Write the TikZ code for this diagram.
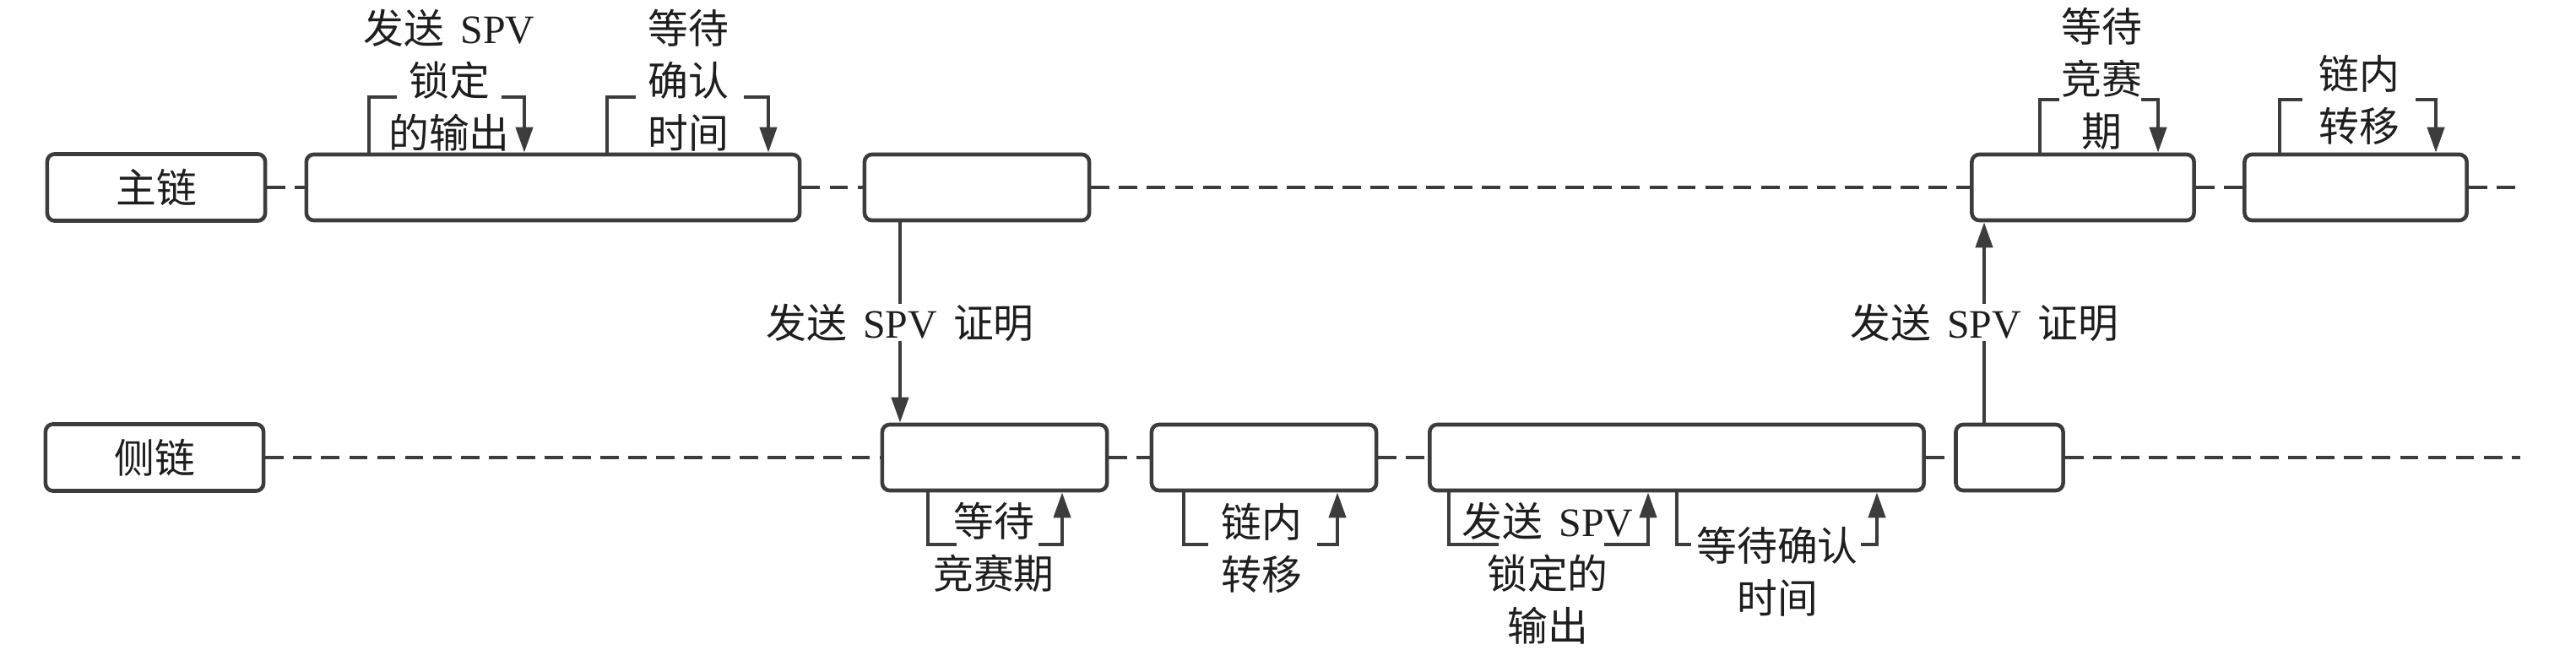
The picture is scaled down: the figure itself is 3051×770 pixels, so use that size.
\documentclass[tikz,border=0pt]{standalone}
\usepackage{fontspec}
\setmainfont{Noto Sans CJK SC}[WordSpace=1.8]
\newfontfamily\lat{Liberation Serif}
\definecolor{LineGray}{RGB}{60,60,60}
\definecolor{TextGray}{RGB}{30,30,30}
\usetikzlibrary{arrows.meta}

\begin{document}
\begin{tikzpicture}[x=0.01cm, y=-0.01cm,
    font=\fontsize{13.6}{17.6}\selectfont,
    >={Triangle[length=3mm,width=2mm]},
    blk/.style={draw=LineGray, line width=1.3pt, rounded corners=2.5pt, fill=white,
        minimum height=0.78cm, inner sep=0pt, text=TextGray},
    chain/.style={draw=LineGray, line width=1.3pt, dash pattern=on 6.2pt off 3.2pt},
    brk/.style={draw=LineGray, line width=1.2pt},
    lbl/.style={align=center, inner sep=0pt, text=TextGray}]
        \useasboundingbox (0,0) rectangle (3051,770);

        \node[blk, minimum width=2.58cm, minimum height=0.79cm] (main) at (185,222) {主链};
        \node[blk, minimum width=5.84cm] (m1) at (655,222) {};
        \node[blk, minimum width=2.66cm] (m2) at (1157,222) {};
        \node[blk, minimum width=2.63cm] (m3) at (2467,222) {};
        \node[blk, minimum width=2.63cm] (m4) at (2790,222) {};
        \coordinate (mainend) at (2985,222);

        \node[blk, minimum width=2.58cm, minimum height=0.79cm] (side) at (183,542) {侧链};
        \node[blk, minimum width=2.66cm] (s1) at (1178,542) {};
        \node[blk, minimum width=2.66cm] (s2) at (1497,542) {};
        \node[blk, minimum width=5.85cm] (s3) at (1986,542) {};
        \node[blk, minimum width=1.27cm] (s4) at (2380,542) {};
        \coordinate (sideend) at (2985,542);

        \foreach \a/\b in {main/m1, m1/m2, m2/m3, m3/m4, m4/mainend, side/s1, s1/s2, s2/s3, s3/s4, s4/sideend}
            \draw[chain] (\a) -- (\b);

        \draw[brk, ->] (m2.south -| 1066,0) -- node[lbl, fill=white] {发送 {\lat SPV} 证明} (s1.north -| 1066,0);
        \draw[brk, ->] (s4.north -| 2350,0) -- node[lbl, fill=white] {发送 {\lat SPV} 证明} (m3.south -| 2350,0);

        \foreach \b/\s/\l/\g/\h/\r/\y in {m1/north/437/470/594/621/115, m1/north/719/753/881/910/115,
                m3/north/2416/2439/2536/2556/118, m4/north/2700/2727/2861/2885/118,
                s1/south/1099/1133/1230/1258/645, s2/south/1402/1431/1560/1584/645,
                s3/south/1716/1775/1900/1952/645, s3/south/1986/2003/2204/2223/645} {
            \coordinate (gapl) at (\g,\y);
            \coordinate (gapr) at (\h,\y);
            \draw[brk] (\b.\s -| \l,0) |- (gapl);
            \draw[brk, ->] (gapr) -| (\b.\s -| \r,0);
        }

        \node[lbl] (t1) at (532,95) {发送 {\lat SPV}\\锁定\\的输出};
        \node[lbl] (t2) at (815,95) {等待\\确认\\时间};
        \node[lbl] (t3) at (2489,93) {等待\\竞赛\\期};
        \node[lbl] (t4) at (2794,118) {链内\\转移};
        \node[lbl] (t5) at (1177,648) {等待\\竞赛期};
        \node[lbl] (t6) at (1494,649) {链内\\转移};
        \node[lbl] (t7) at (1833,679) {发送 {\lat SPV}\\锁定的\\输出};
        \node[lbl] (t8) at (2105,677) {等待确认\\时间};
\end{tikzpicture}
\end{document}
